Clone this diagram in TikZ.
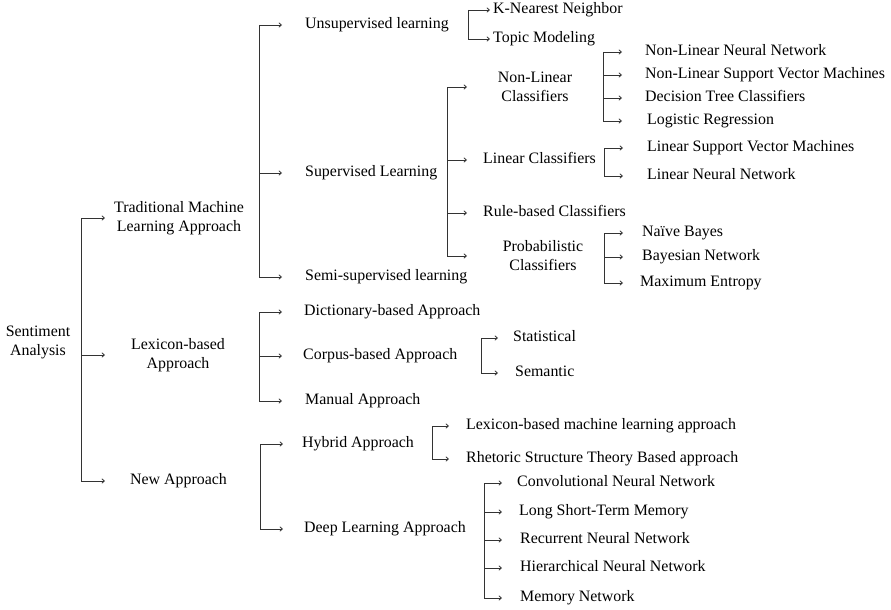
\documentclass[tikz,border=0pt]{standalone}
\usepackage{fontspec}
\setmainfont{Liberation Serif}
\usetikzlibrary{arrows.meta}
\begin{document}
\begin{tikzpicture}[x=1pt,y=-1pt,
  every node/.style={font=\fontsize{15.9}{19}\selectfont, inner sep=0pt, text=black},
  lbl/.style={anchor=west, text height=10.8pt, text depth=3.6pt},
  lbl2/.style={align=center},
  arr/.style={draw=black!80, line width=0.8pt, -{Straight Barb[length=2.6pt,width=4.5pt]}},
  brk/.style={draw=black!80, line width=0.8pt}]
\useasboundingbox (0,0) rectangle (891,610);

% level 0 / 1
\node[lbl2] (sa) at (38,342) {Sentiment\\Analysis};
\node[lbl2] (tml) at (179,218) {Traditional Machine\\Learning Approach};
\node[lbl2] (lex) at (178,355) {Lexicon-based\\Approach};
\node[lbl] (new) at (130,481) {New Approach};

% level 2
\node[lbl] (unsup) at (305,25) {Unsupervised learning};
\node[lbl] (sup) at (305,173) {Supervised Learning};
\node[lbl] (semi) at (305,277) {Semi-supervised learning};
\node[lbl] (dict) at (304,312) {Dictionary-based Approach};
\node[lbl] (corp) at (303,356) {Corpus-based Approach};
\node[lbl] (man) at (305,401) {Manual Approach};
\node[lbl] (hyb) at (302,444) {Hybrid Approach};
\node[lbl] (deep) at (304,529) {Deep Learning Approach};

% level 3
\node[lbl] (knn) at (493,10) {K-Nearest Neighbor};
\node[lbl] (topic) at (493,39) {Topic Modeling};
\node[lbl2] (nlc) at (535,87) {Non-Linear\\Classifiers};
\node[lbl] (lc) at (483,160) {Linear Classifiers};
\node[lbl] (rbc) at (483,213) {Rule-based Classifiers};
\node[lbl2] (pc) at (543,256) {Probabilistic\\Classifiers};
\node[lbl] (stat) at (513,338) {Statistical};
\node[lbl] (sem) at (515,373) {Semantic};
\node[lbl] (lbml) at (466,426) {Lexicon-based machine learning approach};
\node[lbl] (rst) at (466,459) {Rhetoric Structure Theory Based approach};
\node[lbl] (cnn) at (517,483) {Convolutional Neural Network};
\node[lbl] (lstm) at (519,512) {Long Short-Term Memory};
\node[lbl] (rnn) at (520,540) {Recurrent Neural Network};
\node[lbl] (hnn) at (520,568) {Hierarchical Neural Network};
\node[lbl] (mem) at (520,598) {Memory Network};

% level 4
\node[lbl] (nlnn) at (645,52) {Non-Linear Neural Network};
\node[lbl] (nlsvm) at (645,75) {Non-Linear Support Vector Machines};
\node[lbl] (dtc) at (645,98) {Decision Tree Classifiers};
\node[lbl] (lr) at (647,121) {Logistic Regression};
\node[lbl] (lsvm) at (647,148) {Linear Support Vector Machines};
\node[lbl] (lnn) at (647,176) {Linear Neural Network};
\node[lbl] (nb) at (642,233) {Naïve Bayes};
\node[lbl] (bn) at (642,257) {Bayesian Network};
\node[lbl] (me) at (640,283) {Maximum Entropy};

% bracket coordinates (vertical line x, arrow tip x)
\coordinate (b0) at (81,0);   \coordinate (t0) at (105,0);
\coordinate (b1) at (259,0);  \coordinate (t1) at (282,0);
\coordinate (b2) at (259,0);  \coordinate (t2) at (282,0);
\coordinate (b3) at (260,0);  \coordinate (t3) at (283,0);
\coordinate (b4) at (468,0);  \coordinate (t4) at (490,0);
\coordinate (b5) at (447,0);  \coordinate (t5) at (467,0);
\coordinate (b6) at (603,0);  \coordinate (t6) at (622,0);
\coordinate (b7) at (604,0);  \coordinate (t7) at (623,0);
\coordinate (b8) at (604,0);  \coordinate (t8) at (623,0);
\coordinate (b9) at (481,0);  \coordinate (t9) at (498,0);
\coordinate (b10) at (432,0); \coordinate (t10) at (449,0);
\coordinate (b11) at (484,0); \coordinate (t11) at (502,0);

% root
\draw[brk] (b0 |- tml) -- (b0 |- new.west);
\foreach \c in {tml,lex} \draw[arr] (b0 |- \c) -- (t0 |- \c);
\draw[arr] (b0 |- new.west) -- (t0 |- new.west);

% traditional
\draw[brk] (b1 |- unsup.west) -- (b1 |- semi.west);
\foreach \c in {unsup,sup,semi} \draw[arr] (b1 |- \c.west) -- (t1 |- \c.west);

% lexicon
\draw[brk] (b2 |- dict.west) -- (b2 |- man.west);
\foreach \c in {dict,corp,man} \draw[arr] (b2 |- \c.west) -- (t2 |- \c.west);

% new
\draw[brk] (b3 |- hyb.west) -- (b3 |- deep.west);
\foreach \c in {hyb,deep} \draw[arr] (b3 |- \c.west) -- (t3 |- \c.west);

% unsupervised
\draw[brk] (b4 |- knn.west) -- (b4 |- topic.west);
\foreach \c in {knn,topic} \draw[arr] (b4 |- \c.west) -- (t4 |- \c.west);

% supervised
\draw[brk] (b5 |- nlc) -- (b5 |- pc);
\foreach \c in {nlc,pc} \draw[arr] (b5 |- \c) -- (t5 |- \c);
\foreach \c in {lc,rbc} \draw[arr] (b5 |- \c.west) -- (t5 |- \c.west);

% non-linear
\draw[brk] (b6 |- nlnn.west) -- (b6 |- lr.west);
\foreach \c in {nlnn,nlsvm,dtc,lr} \draw[arr] (b6 |- \c.west) -- (t6 |- \c.west);

% linear
\draw[brk] (b7 |- lsvm.west) -- (b7 |- lnn.west);
\foreach \c in {lsvm,lnn} \draw[arr] (b7 |- \c.west) -- (t7 |- \c.west);

% probabilistic
\draw[brk] (b8 |- nb.west) -- (b8 |- me.west);
\foreach \c in {nb,bn,me} \draw[arr] (b8 |- \c.west) -- (t8 |- \c.west);

% corpus
\draw[brk] (b9 |- stat.west) -- (b9 |- sem.west);
\foreach \c in {stat,sem} \draw[arr] (b9 |- \c.west) -- (t9 |- \c.west);

% hybrid
\draw[brk] (b10 |- lbml.west) -- (b10 |- rst.west);
\foreach \c in {lbml,rst} \draw[arr] (b10 |- \c.west) -- (t10 |- \c.west);

% deep
\draw[brk] (b11 |- cnn.west) -- (b11 |- mem.west);
\foreach \c in {cnn,lstm,rnn,hnn,mem} \draw[arr] (b11 |- \c.west) -- (t11 |- \c.west);
\end{tikzpicture}
\end{document}
